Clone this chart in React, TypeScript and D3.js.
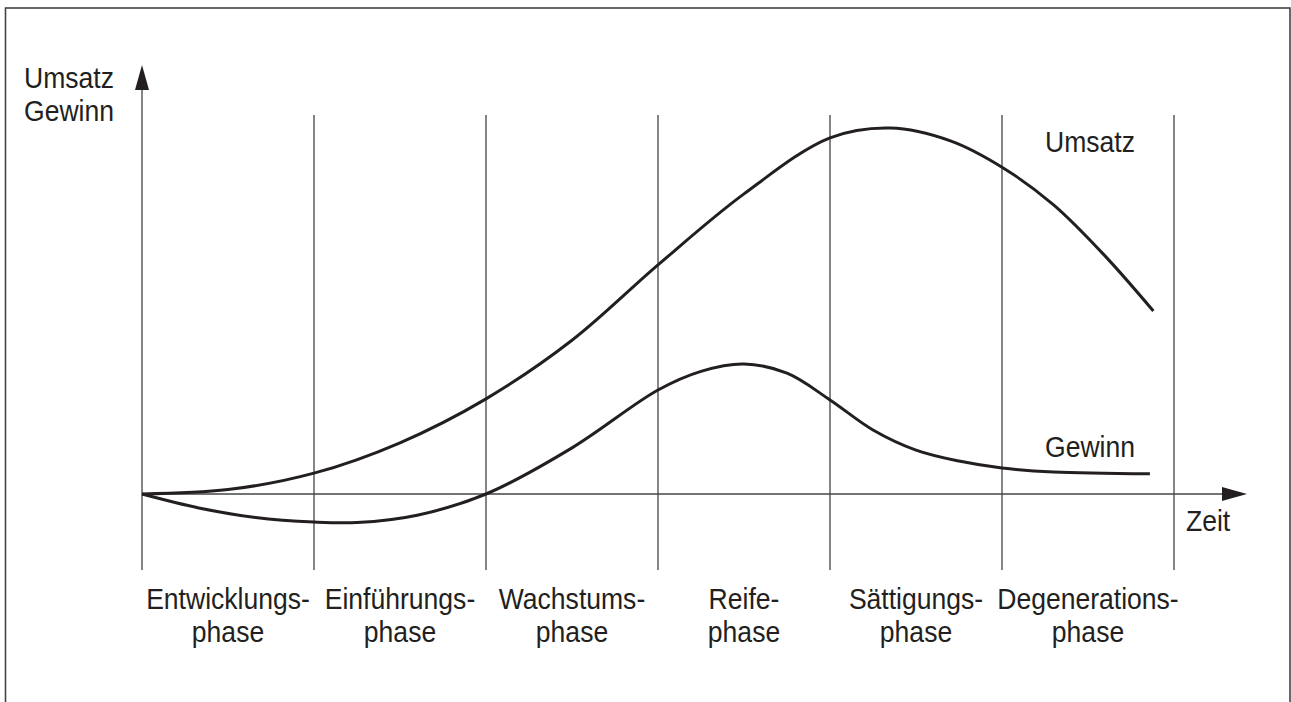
import React from "react";
import * as d3 from "d3";

const phaseBoundaries = [0, 1, 2, 3, 4, 5, 6];
const phaseLine1 = ["Entwicklungs-", "Einführungs-", "Wachstums-", "Reife-", "Sättigungs-", "Degenerations-"];
const phaseLine2 = ["phase", "phase", "phase", "phase", "phase", "phase"];

const umsatzT = [0, 0.5, 1, 1.5, 2, 2.5, 3, 3.5, 4, 4.35, 4.7, 5, 5.3, 5.6, 5.88];
const umsatzV = [0, 1.2, 5.7, 14, 26, 42, 62.6, 82, 97.3, 100, 96.5, 89.3, 79, 65, 50];

const gewinnT = [0, 0.33, 0.66, 1, 1.25, 1.6, 2, 2.5, 3, 3.25, 3.5, 3.75, 4, 4.25, 4.5, 4.75, 5, 5.3, 5.86];
const gewinnV = [0, -3.8, -6.4, -7.65, -7.8, -5.8, 0, 12.6, 28.4, 33.5, 35.5, 33, 25.7, 17.5, 12, 9, 7.1, 6, 5.5];

const FONT = "'Liberation Sans', Arial, sans-serif";

export default function App() {
  const W = 1291;
  const H = 702;
  const x = d3.scaleLinear().domain([0, 6]).range([142, 1174]);
  const y = d3.scaleLinear().domain([0, 100]).range([494, 128]);

  const line = d3
    .line<[number, number]>()
    .x((d) => x(d[0]))
    .y((d) => y(d[1]))
    .curve(d3.curveCatmullRom.alpha(0.5));

  const umsatz = umsatzT.map((t, i) => [t, umsatzV[i]] as [number, number]);
  const gewinn = gewinnT.map((t, i) => [t, gewinnV[i]] as [number, number]);

  const gridTop = 115;
  const gridBottom = 570;
  const y0 = y(0);
  const xEnd = 1247;
  const yTip = 65;
  const thin = "#444";
  const ink = "#231f20";
  const fs = 29.5;
  const sx = 0.9;

  const T = (px: number, py: number, s: string, anchor: string = "start") => (
    <text transform={`translate(${px},${py}) scale(${sx},1)`} textAnchor={anchor}>{s}</text>
  );

  return (
    <svg
      width={W}
      height={H}
      style={{ position: "absolute", left: 0, top: 0, display: "block", background: "#fff" }}
    >
      <rect x={5.5} y={8} width={1284.5} height={720} fill="none" stroke={thin} strokeWidth={1.6} />
      {phaseBoundaries.map((b) => (
        <line key={b} x1={x(b)} x2={x(b)} y1={b === 0 ? 88 : gridTop} y2={gridBottom} stroke={thin} strokeWidth={1.3} />
      ))}
      <line x1={x(0)} x2={xEnd - 22} y1={y0} y2={y0} stroke={thin} strokeWidth={1.3} />
      <path d={`M${xEnd},${y0} L${xEnd - 25},${y0 - 7} L${xEnd - 25},${y0 + 7} Z`} fill={ink} />
      <path d={`M${x(0)},${yTip} L${x(0) - 7},${yTip + 25} L${x(0) + 7},${yTip + 25} Z`} fill={ink} />
      <path d={line(umsatz) || ""} fill="none" stroke={ink} strokeWidth={3} />
      <path d={line(gewinn) || ""} fill="none" stroke={ink} strokeWidth={3} />
      <g fontFamily={FONT} fontSize={fs} fill={ink}>
        {T(114, 88, "Umsatz", "end")}
        {T(114, 121, "Gewinn", "end")}
        {T(1045, 152, "Umsatz")}
        {T(1045, 457, "Gewinn")}
        {T(1186, 531, "Zeit")}
        {phaseLine1.map((p, i) => (
          <g key={i}>
            {T((x(i) + x(i + 1)) / 2, 609, p, "middle")}
            {T((x(i) + x(i + 1)) / 2, 642, phaseLine2[i], "middle")}
          </g>
        ))}
      </g>
    </svg>
  );
}
